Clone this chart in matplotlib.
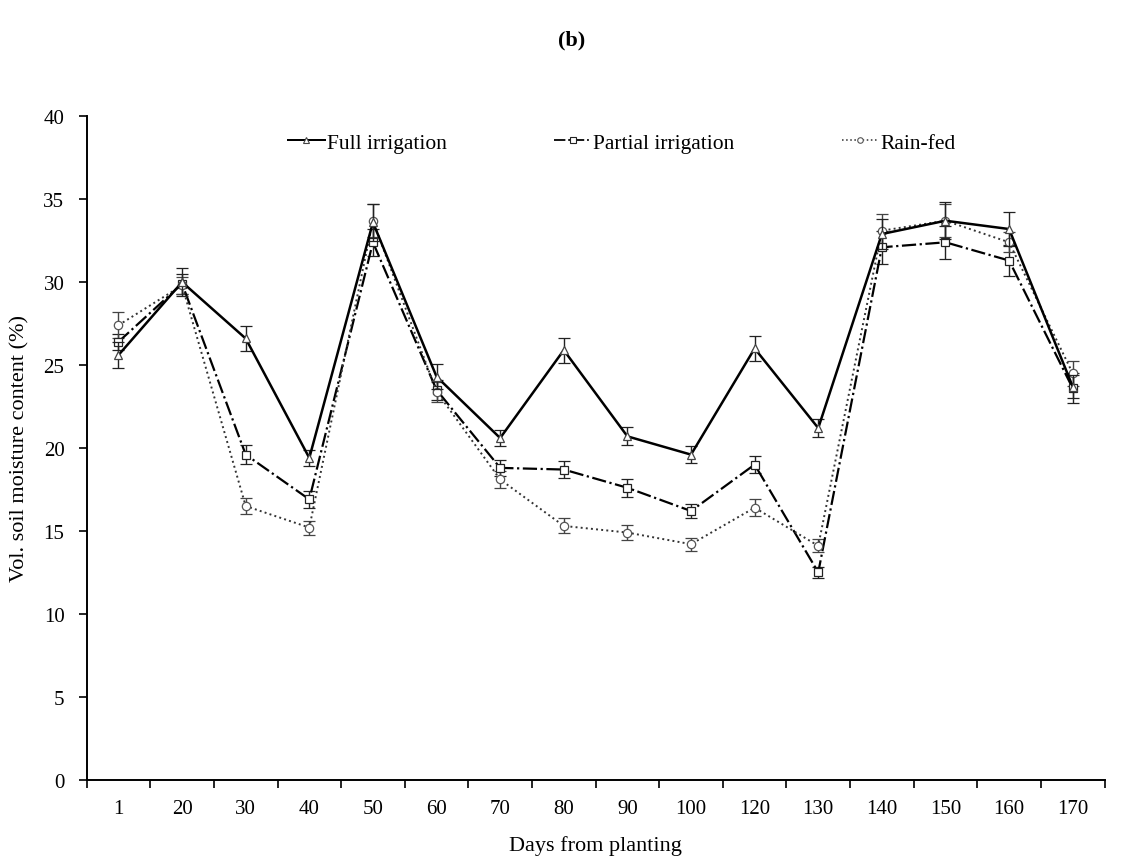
import numpy as np
import matplotlib.pyplot as plt
from matplotlib.lines import Line2D

plt.rcParams['font.family'] = ['Liberation Serif', 'DejaVu Serif']

days = ["1", "20", "30", "40", "50", "60", "70", "80", "90", "100",
        "120", "130", "140", "150", "160", "170"]

full_irr = [25.6, 30.0, 26.6, 19.4, 33.6, 24.3, 20.6, 25.9, 20.7, 19.6,
            26.0, 21.2, 32.9, 33.7, 33.2, 23.7]
full_err = [0.8, 0.85, 0.75, 0.5, 1.1, 0.75, 0.5, 0.75, 0.55, 0.5,
            0.75, 0.55, 0.9, 1.1, 1.0, 0.7]

partial_irr = [26.4, 29.9, 19.6, 16.9, 32.4, 23.5, 18.8, 18.7, 17.6, 16.2,
               19.0, 12.5, 32.1, 32.4, 31.3, 23.6]
partial_err = [0.5, 0.6, 0.56, 0.5, 0.8, 0.6, 0.5, 0.5, 0.55, 0.45,
               0.5, 0.35, 1.0, 1.0, 0.95, 0.9]

rain_fed = [27.4, 29.8, 16.5, 15.2, 33.7, 23.4, 18.1, 15.3, 14.9, 14.2,
            16.4, 14.1, 33.1, 33.7, 32.4, 24.5]
rain_err = [0.8, 0.5, 0.48, 0.42, 1.0, 0.6, 0.5, 0.45, 0.45, 0.4,
            0.5, 0.4, 1.0, 1.0, 0.6, 0.75]

x = np.arange(len(days))

fig = plt.figure(figsize=(11.21, 8.62), dpi=100)
ax = fig.add_axes([0.0773, 0.0943, 0.908, 0.7697])

common = dict(capsize=4, elinewidth=1.0, capthick=1.0, markersize=6,
              markerfacecolor='white', markeredgewidth=0.9)

styles = [
    dict(color='black', ecolor='#222222', linestyle='-', linewidth=1.8,
         marker='^', markeredgecolor='#444444'),
    dict(color='black', ecolor='#222222', linestyle='-.', linewidth=1.6,
         marker='s', markeredgecolor='#222222'),
    dict(color='#333333', ecolor='#444444', linestyle=':', linewidth=1.4,
         marker='o', markeredgecolor='#555555'),
]
series = [(full_irr, full_err, 'Full irrigation'),
          (partial_irr, partial_err, 'Partial irrigation'),
          (rain_fed, rain_err, 'Rain-fed')]

handles = []
for (vals, err, name), st, z in zip(series, styles, [3, 2, 2]):
    ax.errorbar(x, vals, yerr=err, zorder=z, **st, **common)
    # legend key without the error bar
    handles.append(Line2D([], [], color=st['color'], linestyle=st['linestyle'],
                          linewidth=st['linewidth'] * 0.8, marker=st['marker'],
                          markersize=4, markerfacecolor='white',
                          markeredgecolor=st['markeredgecolor'],
                          markeredgewidth=0.8, label=name))

ax.set_xlim(-0.5, len(days) - 0.5)
ax.set_ylim(0, 40)
ax.set_yticks(np.arange(0, 41, 5))

# category labels in the middle, tick marks on the boundaries
ax.set_xticks(x)
ax.set_xticklabels(days)
ax.set_xticks(np.arange(-0.5, len(days)), minor=True)
ax.tick_params(axis='x', which='major', length=0, pad=14, labelsize=15)
ax.tick_params(axis='x', which='minor', length=6, width=1.2, direction='out')
ax.tick_params(axis='y', length=6, width=1.2, direction='out', labelsize=15, pad=10)

for side in ['top', 'right']:
    ax.spines[side].set_visible(False)
for side in ['left', 'bottom']:
    ax.spines[side].set_linewidth(1.4)

ax.set_xlabel('Days from planting', fontsize=16, labelpad=12)
ax.set_ylabel('Vol. soil moisture content (%)', fontsize=16, labelpad=10)

ax.legend(handles=handles, loc='upper left', bbox_to_anchor=(0.198, 0.975),
          ncol=3, frameon=False, fontsize=15.5, handlelength=1.7,
          handletextpad=0.1, columnspacing=5.0, borderpad=0, borderaxespad=0)

fig.text(0.51, 0.953, '(b)', ha='center', va='center', fontsize=16,
         fontweight='bold')

fig.savefig('out.png', dpi=100)
